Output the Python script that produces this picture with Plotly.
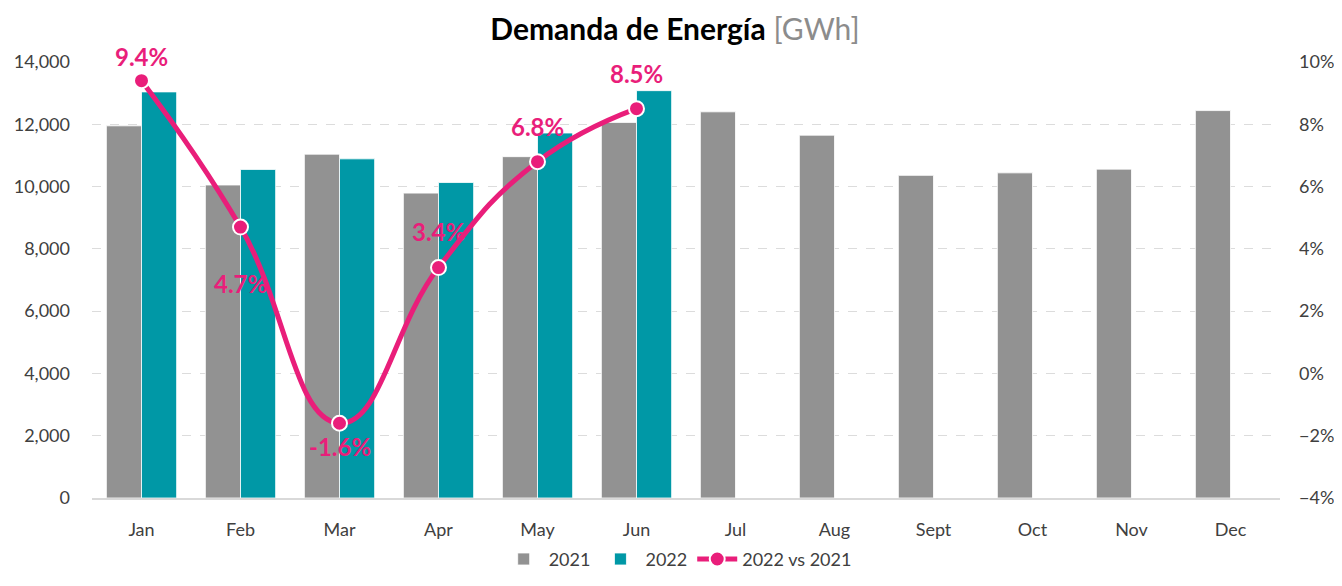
import plotly.graph_objects as go

months = ["Jan", "Feb", "Mar", "Apr", "May", "Jun", "Jul", "Aug", "Sept", "Oct", "Nov", "Dec"]
demand_2021 = [11950, 10050, 11040, 9790, 10960, 12060, 12400, 11650, 10360, 10440, 10560, 12440]
months_2022 = ["Jan", "Feb", "Mar", "Apr", "May", "Jun"]
demand_2022 = [13040, 10550, 10890, 10130, 11720, 13080]
growth_pct = [9.4, 4.7, -1.6, 3.4, 6.8, 8.5]

GRAY = "#929292"
TEAL = "#0098A6"
PINK = "#E91E7A"
FONT = "Lato"

fig = go.Figure()
fig.add_trace(go.Bar(x=months, y=demand_2021, name="2021", marker=dict(color=GRAY, line=dict(color="white", width=0.8))))
fig.add_trace(go.Bar(x=months_2022, y=demand_2022, name="2022", marker=dict(color=TEAL, line=dict(color="white", width=0.8))))
fig.add_trace(go.Scatter(
    x=months_2022, y=growth_pct, name="2022 vs 2021", yaxis="y2",
    mode="lines+markers",
    line=dict(color=PINK, width=5, shape="spline", smoothing=1.3),
    marker=dict(size=15, color=PINK, line=dict(color="white", width=2)),
))

label_shift = [24, -56, -23, 36, 35, 35]
for m, v, s in zip(months_2022, growth_pct, label_shift):
    fig.add_annotation(x=m, y=v, yref="y2", text=f"<b>{v:.1f}%</b>", showarrow=False,
                       yshift=s, font=dict(family=FONT, size=24, color=PINK))

fig.update_layout(
    width=1326, height=570,
    margin=dict(l=84, r=54, t=54, b=80, autoexpand=False),
    paper_bgcolor="white", plot_bgcolor="white",
    font=dict(family=FONT, size=17, color="#404040"),
    title=dict(text="<b>Demanda de Energía</b> <span style='color:#8C8C8C'>[GWh]</span>",
               x=0.503, xanchor="center", y=0.962, yanchor="middle", automargin=False,
               font=dict(family=FONT, size=30, color="black")),
    barmode="group", bargap=0.29, bargroupgap=0,
    xaxis=dict(categoryorder="array", categoryarray=months, range=[-0.5, 11.5],
               showgrid=False, showline=True, linecolor="#D9D9D9", linewidth=1.5, ticks="",
               automargin=False, ticklabelstandoff=15,
               tickfont=dict(size=18, color="#404040")),
    yaxis=dict(range=[0, 14000], dtick=2000, tickformat=",", showgrid=True,
               gridcolor="#DCDCDC", griddash="dash", gridwidth=1, zeroline=False,
               automargin=False,
               tickfont=dict(size=18, color="#404040"), ticklabelstandoff=21),
    yaxis2=dict(range=[-4, 10], dtick=2, ticksuffix="%", overlaying="y", side="right",
                showgrid=False, zeroline=False, automargin=False,
                tickfont=dict(size=18, color="#404040"), ticklabelstandoff=18),
    legend=dict(orientation="h", x=0.493, xanchor="center", y=-0.183, yanchor="bottom",
                font=dict(size=18, color="#404040"), traceorder="normal", itemwidth=40),
    showlegend=True,
)

fig.write_html("out.html")
